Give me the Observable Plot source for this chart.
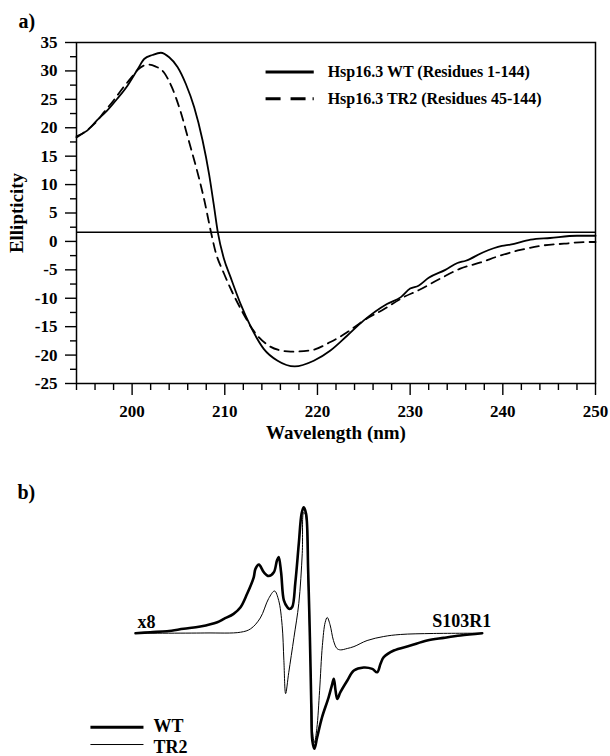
<!DOCTYPE html>
<html><head><meta charset="utf-8">
<script src="https://cdn.jsdelivr.net/npm/d3@7"></script>
<script src="https://cdn.jsdelivr.net/npm/@observablehq/plot@0.6"></script>
<style>html,body{margin:0;padding:0;background:#fff}#chart svg{display:block}</style>
</head><body><div id="chart"></div>
<script>
// ---------- Panel a: CD spectra ----------
const wtNm  = [194,195.15,196.2,197.3,198.4,199.5,200.6,201.3,202.2,203.1,204.0,204.9,205.8,206.7,207.6,208.3,208.8,209.25,209.9,210.6,211.7,212.8,214.2,215.7,217.55,219.6,221.4,223.2,225.0,227.5,229.0,230.0,230.9,232.0,233.8,235.1,236.0,237.9,239.9,240.8,243.0,245.1,248.0,250];
const wtVal = [18.5,19.5,21.3,23.0,25.1,27.4,30.3,32.1,32.8,33.2,32.4,30.7,27.7,23.6,17.8,11.9,6.6,1.6,-3.0,-6.2,-11.0,-15.0,-18.9,-21.0,-22.0,-21.0,-19.2,-16.6,-13.9,-11.0,-9.8,-8.3,-7.8,-6.4,-5.0,-3.8,-3.4,-1.9,-0.8,-0.55,0.3,0.6,1.0,1.0];
const trNm  = [194,195,196,197,198,199,200,200.6,201.2,201.8,202.5,203.4,204.3,205.2,206.1,207.0,207.8,208.5,209.0,209.9,210.8,211.9,213.1,214.7,215.8,217.1,219.2,221.4,223.2,225.0,227.2,229.3,230.9,233.3,235.4,237.6,239.7,241.9,244.4,246.6,249.1,250];
const trVal = [18.3,19.4,20.8,22.8,24.8,27.0,29.0,30.2,30.9,31.1,30.8,29.8,27.1,23.0,17.8,12.5,7.2,1.7,-1.8,-5.6,-8.9,-12.4,-15.7,-18.3,-19.1,-19.4,-19.2,-17.7,-16.0,-13.9,-11.9,-9.8,-8.6,-6.5,-4.8,-3.7,-2.5,-1.5,-0.7,-0.4,-0.1,-0.1];
const refLine = [1.6];
const xMajor = [200,210,220,230,240,250];
const xMinor = [194,196,198,202,204,206,208,212,214,216,218,222,224,226,228,232,234,236,238,242,244,246,248];
const yMajor = [-25,-20,-15,-10,-5,0,5,10,15,20,25,30,35];
const yMinor = [-22.5,-17.5,-12.5,-7.5,-2.5,2.5,7.5,12.5,17.5,22.5,27.5,32.5];
const legendA = ["Hsp16.3 WT (Residues 1-144)", "Hsp16.3 TR2 (Residues 45-144)"];

// ---------- Panel b: EPR spectra ----------
const eprWtX = [0,4.3,9.1,13.9,18.7,23.6,25.5,28.3,30.3,32.2,34.1,34.6,35.6,37.0,38.4,39.9,40.8,41.3,42.0,42.8,43.8,44.4,45.2,46.1,47.1,47.9,48.5,49.2,49.8,50.3,50.7,51.0,51.6,52.4,53.8,55.7,56.7,57.2,57.7,58.2,59.1,61.1,63.0,65.8,68.3,69.7,70.7,71.6,74.5,79.3,84.1,88.9,93.7,100];
const eprWtY = [0,0.8,1.6,3.5,5.3,8.7,11.4,15.4,20.6,31.3,44.4,51.1,54.4,48.4,45.4,48.4,57.7,60.5,48.2,26.0,20.6,19.2,20.8,40.2,71.0,94.8,100,94.8,49.8,-3.2,-56.0,-85.2,-91.7,-82.5,-66.7,-50.8,-40.7,-36.2,-45.5,-52.1,-46.8,-37.5,-29.6,-27.2,-28.3,-31.0,-24.0,-19.0,-13.7,-9.8,-5.8,-3.7,-1.8,0];
const eprTrX = [0,20,30.3,33.2,36.0,38.4,40.1,41.3,42.3,42.8,43.3,44.2,45.7,47.1,48.1,48.5,49.0,49.7,50.3,50.8,51.2,51.6,52.3,53.1,53.9,54.7,55.3,56.1,57.1,58.1,59.1,61.1,63.0,66.8,71.6,76.4,86.0,100];
const eprTrY = [0,0.2,0.8,3.5,12.1,27.5,33.5,26.0,6.1,-21.7,-47.9,-31.2,-3.4,23.6,63.3,95.8,94.2,49.8,-5.8,-57.4,-82.0,-86.7,-75.6,-45.5,-9.8,8.5,12.5,6.9,-5.8,-12.1,-13.2,-12.1,-10.6,-5.8,-2.6,-1.0,-0.2,0];
const legendB = ["WT", "TR2"];

const wtRows = wtNm.map((x, i) => ({x, y: wtVal[i]}));
const trRows = trNm.map((x, i) => ({x, y: trVal[i]}));
const eWt = eprWtX.map((x, i) => ({x, y: eprWtY[i]}));
const eTr = eprTrX.map((x, i) => ({x, y: eprTrY[i]}));

const font = '"Liberation Serif", "Times New Roman", serif';
const style = {fontFamily: font, fontWeight: "bold", fontSize: "17px", background: "#fff", color: "#000", overflow: "visible"};
const ink = "#000";

const plotA = Plot.plot({
  width: 610, height: 450,
  marginLeft: 76, marginRight: 15, marginTop: 42, marginBottom: 67,
  style,
  x: {domain: [194, 250], label: null},
  y: {domain: [-25, 35], label: null},
  marks: [
    Plot.ruleY(refLine, {stroke: ink, strokeWidth: 1.4}),
    Plot.line(wtRows, {x: "x", y: "y", curve: "monotone-x", stroke: ink, strokeWidth: 1.8}),
    Plot.line(trRows, {x: "x", y: "y", curve: "monotone-x", stroke: ink, strokeWidth: 1.8, strokeDasharray: "9,6"}),
    Plot.axisX({ticks: xMinor, tickSize: 7, tickFormat: () => "", stroke: ink, strokeWidth: 1.4}),
    Plot.axisX({ticks: xMajor, tickSize: 12, tickPadding: 9, tickFormat: d => String(d), fontSize: 17, fontWeight: "bold", stroke: ink, strokeWidth: 1.4}),
    Plot.axisY({ticks: yMinor, tickSize: 6, tickFormat: () => "", stroke: ink, strokeWidth: 1.4}),
    Plot.axisY({ticks: yMajor, tickSize: 11, tickPadding: 8, tickFormat: d => String(d), fontSize: 17, fontWeight: "bold", stroke: ink, strokeWidth: 1.4}),
    Plot.frame({stroke: ink, strokeWidth: 1.5}),
    Plot.text(["Wavelength (nm)"], {text: d => d, frameAnchor: "bottom", lineAnchor: "middle", dy: 49, fontSize: 19, fill: ink}),
    Plot.text(["Ellipticity"], {text: d => d, frameAnchor: "left", lineAnchor: "middle", dx: -60, rotate: -90, textAnchor: "middle", fontSize: 19, fill: ink}),
    Plot.text(["a)"], {text: d => d, frameAnchor: "top-left", lineAnchor: "middle", dx: -58, dy: -21, textAnchor: "start", fontSize: 20, fill: ink}),
    // legend
    Plot.link([legendA[0]], {x1: 214.4, x2: 219.6, y1: 29.8, y2: 29.8, stroke: ink, strokeWidth: 3}),
    Plot.link([legendA[1]], {x1: 214.4, x2: 219.6, y1: 25.1, y2: 25.1, stroke: ink, strokeWidth: 3, strokeDasharray: "15,10,15,7,2,100"}),
    Plot.text(legendA, {text: d => d, x: 221.1, y: (d, i) => i === 0 ? 29.8 : 25.1, textAnchor: "start", fontSize: 16, fill: ink})
  ]
});

const plotB = Plot.plot({
  width: 610, height: 306,
  marginLeft: 135, marginRight: 128.3, marginTop: 50, marginBottom: 0,
  style,
  x: {domain: [0, 100], axis: null},
  y: {domain: [-97.8, 105.3], axis: null},
  marks: [
    Plot.line(eTr, {x: "x", y: "y", curve: "catmull-rom", stroke: ink, strokeWidth: 1}),
    Plot.line(eWt, {x: "x", y: "y", curve: "catmull-rom", stroke: ink, strokeWidth: 2.6}),
    Plot.text(["b)"], {text: d => d, frameAnchor: "top-left", lineAnchor: "middle", dx: -118, dy: -8, textAnchor: "start", fontSize: 20, fill: ink}),
    Plot.text(["x8"], {text: d => d, x: 0.6, y: 8.5, textAnchor: "start", fontSize: 18, fill: ink}),
    Plot.text(["S103R1"], {text: d => d, x: 85.6, y: 9.7, textAnchor: "start", fontSize: 18, fill: ink}),
    Plot.link([legendB[0]], {x1: -13.0, x2: 2.3, y1: -74.6, y2: -74.6, stroke: ink, strokeWidth: 3}),
    Plot.link([legendB[1]], {x1: -13.0, x2: 2.3, y1: -88.3, y2: -88.3, stroke: ink, strokeWidth: 1}),
    Plot.text(legendB, {text: d => d, x: 5.2, y: (d, i) => i === 0 ? -74.0 : -90.5, textAnchor: "start", fontSize: 18, fill: ink})
  ]
});

document.getElementById("chart").append(plotA, plotB);
</script>
</body></html>
